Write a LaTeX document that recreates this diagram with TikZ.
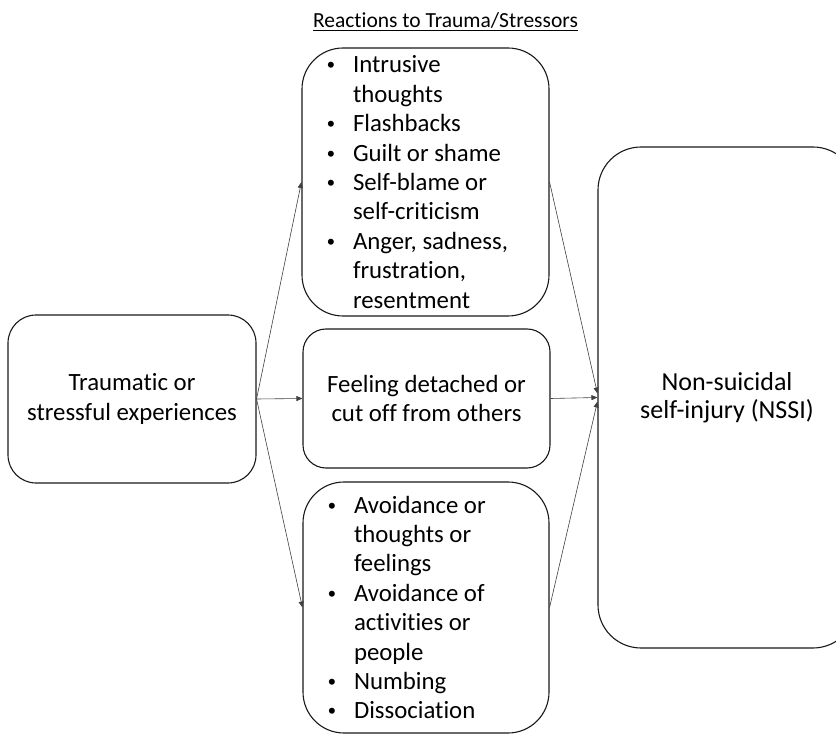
\documentclass[tikz,border=0pt]{standalone}
\usepackage{fontspec}
\setmainfont{Carlito}[Ligatures={NoCommon}]
\newfontfamily\bulfont{Liberation Sans}
\usetikzlibrary{arrows.meta}
\tikzset{
  box/.style={draw=black!90, line width=1.1pt, rectangle, inner sep=0pt, fill=white},
  conn/.style={draw=black!75, line width=0.6pt, -{Triangle[length=6pt,width=5pt]}},
  txt/.style={font=\fontsize{24.8}{29.4}\selectfont},
  bigtxt/.style={font=\fontsize{26}{28.5}\selectfont},
}
\newcommand{\bul}{\makebox[27pt][l]{\hspace*{1pt}{\bulfont\fontsize{22}{22}\selectfont•}}}
\newcommand{\ind}{\hspace*{27pt}}
\begin{document}
\begin{tikzpicture}[x=1pt,y=-1pt]
\useasboundingbox (0,0) rectangle (836,735);
% title
\node[font=\fontsize{21.5}{24}\selectfont, anchor=base] (title) at (445.5,28) {\underline{Reactions to Trauma/Stressors}};
% left box
\node[box, txt, minimum width=248pt, minimum height=168pt, rounded corners=28pt, align=center] (L) at (132,399)
  {Traumatic or\\stressful experiences};
% top middle
\node[box, txt, minimum width=247pt, minimum height=268pt, rounded corners=41pt, text width=199pt, align=flush left] (T) at (425.5,182)
  {\bul Intrusive\\\ind thoughts\\\bul Flashbacks\\\bul Guilt or shame\\\bul Self-blame or\\\ind self-criticism\\\bul Anger, sadness,\\\ind frustration,\\\ind resentment};
% middle
\node[box, txt, minimum width=247pt, minimum height=139pt, rounded corners=23pt, align=center] (M) at (426.5,398.5)
  {Feeling detached or\\cut off from others};
% bottom
\node[box, txt, minimum width=246pt, minimum height=251pt, rounded corners=41pt, text width=198pt, align=flush left] (B) at (426,607.5)
  {\bul Avoidance or\\\ind thoughts or\\\ind feelings\\\bul Avoidance of\\\ind activities or\\\ind people\\\bul Numbing\\\bul Dissociation};
% right
\node[box, bigtxt, minimum width=258pt, minimum height=501pt, rounded corners=43pt, align=center] (R) at (727,397.5)
  {Non-suicidal\\self-injury (NSSI)};
% connectors
\draw[conn] (L.east) -- (T.west);
\draw[conn] (L.east) -- (M.west);
\draw[conn] (L.east) -- (B.west);
\draw[conn] (T.east) -- ([yshift=4pt]R.west);
\draw[conn] (M.east) -- (R.west);
\draw[conn] (B.east) -- ([yshift=-4pt]R.west);
\end{tikzpicture}
\end{document}
